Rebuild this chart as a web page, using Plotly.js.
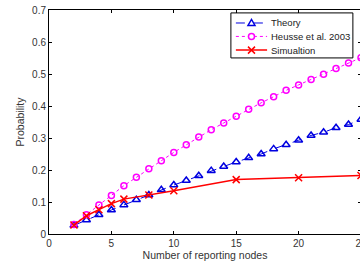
<!DOCTYPE html>
<html><head><meta charset="utf-8">
<script src="https://cdn.plot.ly/plotly-3.0.1.min.js"></script>
<style>html,body{margin:0;padding:0;overflow:hidden;background:#fff;width:360px;height:268px}</style>
</head><body><div id="chart"></div>
<script>
const nodes = [2,3,4,5,6,7,8,9,10,11,12,13,14,15,16,17,18,19,20,21,22,23,24,25];
const theory = [0.027,0.044,0.060,0.075,0.091,0.107,0.122,0.138,0.153,0.167,0.182,0.198,0.211,0.225,0.238,0.250,0.266,0.279,0.293,0.308,0.318,0.332,0.342,0.358];
const heusse = [0.030,0.060,0.091,0.120,0.151,0.177,0.204,0.229,0.255,0.279,0.303,0.326,0.347,0.368,0.390,0.410,0.429,0.449,0.466,0.483,0.499,0.517,0.534,0.551];
const simNodes = [2,3,4,5,6,8,10,15,20,25];
const simulation = [0.028,0.057,0.076,0.095,0.109,0.122,0.135,0.170,0.176,0.183];
const names = ["Theory","Heusse et al. 2003","Simualtion"];
const xTicks = [0,5,10,15,20,25];
const yTicks = [0,0.1,0.2,0.3,0.4,0.5,0.6,0.7];

const colors = ['#0000e0','#ff00ff','#ff0000'];
const FONT = 'Liberation Sans, Arial, Helvetica, sans-serif';

const data = [
  {x:nodes, y:theory, name:names[0], mode:'lines+markers', type:'scatter',
   line:{color:colors[0], width:1, dash:'dash'},
   marker:{symbol:'triangle-up-open', size:7, color:colors[0], line:{width:1.5}}},
  {x:nodes, y:heusse, name:names[1], mode:'lines+markers', type:'scatter',
   line:{color:colors[1], width:1, dash:'dot'},
   marker:{symbol:'circle-open', size:6, color:colors[1], line:{width:1.5}}},
  {x:simNodes, y:simulation, name:names[2], mode:'lines+markers', type:'scatter',
   line:{color:colors[2], width:1.5},
   marker:{symbol:'x-thin-open', size:7, color:colors[2], line:{width:1.5, color:colors[2]}}}
];

// custom compact legend (paper coordinates)
const legBox = {x0:0.583, x1:0.974, y0:0.786, y1:0.987};
const rowY = [0.942, 0.882, 0.821];
const sampleX = [0.599, 0.699];
const markX = 0.649;
const textX = 0.705;
const dashes = ['dash','dot','solid'];
const shapes = [{type:'rect', xref:'paper', yref:'paper', x0:legBox.x0, x1:legBox.x1, y0:legBox.y0, y1:legBox.y1,
  line:{color:'#000', width:1}, fillcolor:'#fff', layer:'above'}];
const annotations = [];
names.forEach((n,i)=>{
  shapes.push({type:'line', xref:'paper', yref:'paper', x0:sampleX[0], x1:sampleX[1], y0:rowY[i], y1:rowY[i],
    line:{color:colors[i], width:i===2?1.5:1, dash:dashes[i]}, layer:'above'});
  const base = {xref:'paper', yref:'paper', xsizemode:'pixel', ysizemode:'pixel',
    xanchor:markX, yanchor:rowY[i], line:{color:colors[i], width:1.5}, layer:'above'};
  if (i === 0) shapes.push(Object.assign({type:'path', path:'M-3.5,-2.5 L3.5,-2.5 L0,3.5 Z', fillcolor:'#fff'}, base));
  if (i === 1) shapes.push(Object.assign({type:'circle', x0:-3, x1:3, y0:-3, y1:3, fillcolor:'#fff'}, base));
  if (i === 2) shapes.push(Object.assign({type:'path', path:'M-3.5,-3.5 L3.5,3.5 M-3.5,3.5 L3.5,-3.5'}, base));
  annotations.push({xref:'paper', yref:'paper', x:textX, y:rowY[i], xanchor:'left', yanchor:'middle',
    text:n, showarrow:false, font:{family:FONT, size:9.5, color:'#222'}});
});

const axisCommon = {
  showline:true, linecolor:'#000', linewidth:1, mirror:'ticks',
  ticks:'inside', ticklen:3, tickcolor:'#000', showgrid:false, zeroline:false,
  tickfont:{family:FONT, size:10, color:'#333'}
};

const layout = {
  width:381, height:268,
  margin:{l:49, r:20, t:10, b:34},
  paper_bgcolor:'#fff', plot_bgcolor:'#fff',
  showlegend:false,
  shapes:shapes, annotations:annotations,
  xaxis:Object.assign({}, axisCommon, {range:[0,25], tickvals:xTicks,
    title:{text:'Number of reporting nodes', standoff:3,
      font:{family:FONT, size:10.5, color:'#333'}}}),
  yaxis:Object.assign({}, axisCommon, {range:[0,0.7], tickvals:yTicks,
    tickformat:'.1~f',
    title:{text:'Probability', standoff:5,
      font:{family:FONT, size:10.5, color:'#333'}}})
};

Plotly.newPlot('chart', data, layout, {displayModeBar:false, staticPlot:true});
</script></body></html>
